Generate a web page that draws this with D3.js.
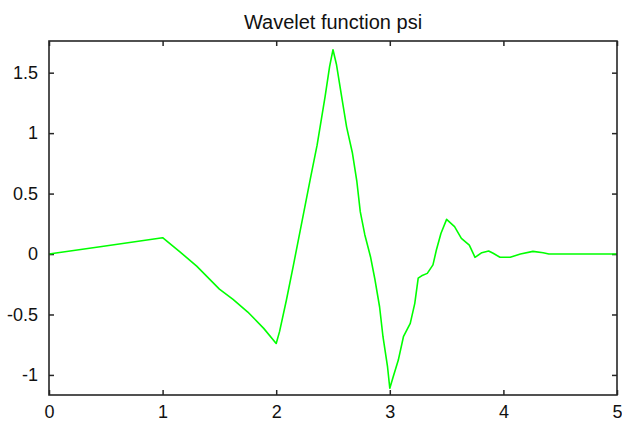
<!DOCTYPE html>
<html>
<head>
<meta charset="utf-8">
<script src="https://cdn.jsdelivr.net/npm/d3@7"></script>
<style>
  html, body { margin: 0; padding: 0; background: #fff; }
  svg { display: block; }
  text { font-family: "Liberation Sans", Arial, sans-serif; fill: #111; }
</style>
</head>
<body>
<svg id="chart" width="622" height="426"></svg>
<script>
// Wavelet function psi sampled along the support [0, 5]
const xValues = [0, 0.45, 1.0, 1.15, 1.3, 1.5, 1.62, 1.75, 1.89, 2.0,
  2.03, 2.09, 2.15, 2.2, 2.3, 2.36, 2.43, 2.47, 2.5, 2.53,
  2.58, 2.62, 2.67, 2.71, 2.74, 2.78, 2.83, 2.87, 2.91, 2.94,
  2.98, 3.0, 3.03, 3.075, 3.12, 3.18, 3.22, 3.25, 3.28, 3.33,
  3.38, 3.41, 3.45, 3.5, 3.57, 3.63, 3.7, 3.75, 3.81, 3.87,
  3.91, 3.97, 4.06, 4.15, 4.26, 4.35, 4.4, 5.0];
const psiValues = [0, 0.06, 0.135, 0.02, -0.1, -0.29, -0.375, -0.48, -0.615, -0.74,
  -0.64, -0.38, -0.1, 0.14, 0.62, 0.9, 1.3, 1.55, 1.69, 1.57,
  1.28, 1.05, 0.84, 0.6, 0.35, 0.16, -0.022, -0.215, -0.436, -0.684,
  -0.932, -1.11, -1.015, -0.877, -0.684, -0.573, -0.408, -0.2, -0.18, -0.16,
  -0.09, 0.033, 0.17, 0.287, 0.226, 0.13, 0.074, -0.027, 0.011, 0.025,
  0.006, -0.027, -0.027, 0, 0.022, 0.011, 0, 0];

const xTicks = [0, 1, 2, 3, 4, 5];
const yTicks = [-1, -0.5, 0, 0.5, 1, 1.5];
const xDomain = [0, 5];
const yDomain = [-1.166, 1.762];
const titleText = "Wavelet function psi";

const svg = d3.select("#chart");
const box = { left: 49, right: 617, top: 41, bottom: 395 };

const x = d3.scaleLinear().domain(xDomain).range([box.left, box.right]);
const y = d3.scaleLinear().domain(yDomain).range([box.bottom, box.top]);

const tickLen = 5;
const axisColor = "#262626";

function styleAxis(g) {
  g.select(".domain").remove();
  g.selectAll(".tick line").attr("stroke", axisColor).attr("stroke-width", 1.5);
  g.selectAll(".tick text").attr("fill", "#111")
    .style("font-family", '"Liberation Sans", Arial, sans-serif')
    .style("font-size", "18px");
}

// bottom / left axes with labels, ticks pointing into the plot
svg.append("g").attr("transform", `translate(0,${box.bottom})`)
  .call(d3.axisBottom(x).tickValues(xTicks).tickFormat(d3.format("d"))
    .tickSizeInner(-tickLen).tickSizeOuter(0).tickPadding(10))
  .call(styleAxis);

svg.append("g").attr("transform", `translate(${box.left},0)`)
  .call(d3.axisLeft(y).tickValues(yTicks).tickFormat(d => String(d))
    .tickSizeInner(-tickLen).tickSizeOuter(0).tickPadding(11))
  .call(styleAxis);

// mirrored ticks on the top and right edges
svg.append("g").attr("transform", `translate(0,${box.top})`)
  .call(d3.axisTop(x).tickValues(xTicks).tickFormat("")
    .tickSizeInner(-tickLen).tickSizeOuter(0))
  .call(styleAxis);

svg.append("g").attr("transform", `translate(${box.right},0)`)
  .call(d3.axisRight(y).tickValues(yTicks).tickFormat("")
    .tickSizeInner(-tickLen).tickSizeOuter(0))
  .call(styleAxis);

// the psi curve
const line = d3.line().x((d, i) => x(xValues[i])).y(d => y(d));
svg.append("path")
  .datum(psiValues)
  .attr("fill", "none")
  .attr("stroke", "#00ff00")
  .attr("stroke-width", 1.6)
  .attr("stroke-linejoin", "round")
  .attr("d", line);

// axes frame
svg.append("rect")
  .attr("x", box.left).attr("y", box.top)
  .attr("width", box.right - box.left).attr("height", box.bottom - box.top)
  .attr("fill", "none").attr("stroke", axisColor).attr("stroke-width", 1.6);

// title
svg.append("text")
  .attr("x", (box.left + box.right) / 2)
  .attr("y", 29)
  .attr("text-anchor", "middle")
  .style("font-size", "20px")
  .text(titleText);
</script>
</body>
</html>
